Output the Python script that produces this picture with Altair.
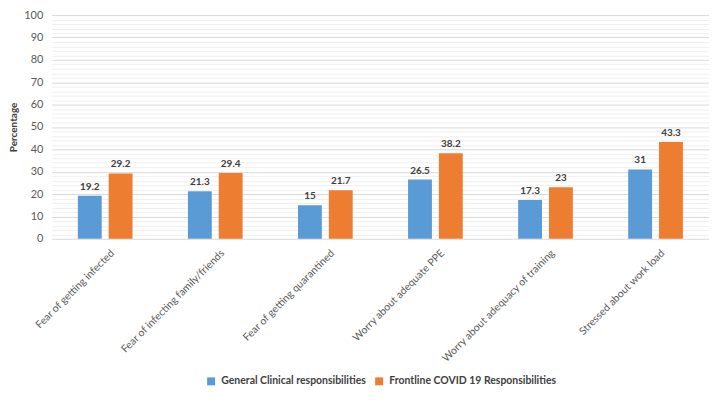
import altair as alt
import pandas as pd

categories = [
    "Fear of getting infected",
    "Fear of infecting family/friends",
    "Fear of getting quarantined",
    "Worry about adequate PPE",
    "Worry about adequacy of training",
    "Stressed about work load",
]
series_names = ["General Clinical responsibilities", "Frontline COVID 19 Responsibilities"]
general = [19.2, 21.3, 15, 26.5, 17.3, 31]
frontline = [29.2, 29.4, 21.7, 38.2, 23, 43.3]
colors = ["#5B9BD5", "#ED7D31"]
grid_ticks = list(range(0, 101, 2))

rows = []
for c, g, f in zip(categories, general, frontline):
    rows.append({"cat": c, "series": series_names[0], "value": g, "label": f"{g:g}"})
    rows.append({"cat": c, "series": series_names[1], "value": f, "label": f"{f:g}"})
df = pd.DataFrame(rows)

FONT = "Lato"

y_scale = alt.Scale(domain=[0, 100], nice=False)
y_axis = alt.Axis(
    values=grid_ticks,
    tickCount=len(grid_ticks) + 5,
    labelOverlap=False,
    labelExpr="datum.value % 10 === 0 ? datum.label : ''",
    gridColor={"condition": {"test": "datum.value % 10 === 0", "value": "#d9d9d9"}, "value": "#efefef"},
    domain=False,
    ticks=False,
    labelFontSize=11,
    labelColor="#595959",
    labelFont=FONT,
    labelPadding=9,
    titleFont=FONT,
    titleFontSize=10,
    titleFontWeight="bold",
    titleColor="#404040",
    titlePadding=5,
)

base = alt.Chart(df).encode(
    x=alt.X(
        "cat:N",
        sort=categories,
        title=None,
        scale=alt.Scale(paddingInner=0.503, paddingOuter=0.237),
        axis=alt.Axis(
            labelAngle=-45,
            labelAlign="right",
            labelBaseline="top",
            labelFontSize=10.5,
            labelColor="#595959",
            labelFont=FONT,
            labelOffset=4,
            labelLimit=0,
            domain=False,
            ticks=False,
            labelPadding=9,
        ),
    ),
    xOffset=alt.XOffset("series:N", sort=series_names, scale=alt.Scale(paddingInner=0.226, paddingOuter=0)),
)

bars = base.mark_bar().encode(
    y=alt.Y("value:Q", scale=y_scale, title="Percentage", axis=y_axis),
    color=alt.Color(
        "series:N",
        sort=series_names,
        scale=alt.Scale(domain=series_names, range=colors),
        legend=alt.Legend(
            title=None,
            orient="none",
            direction="horizontal",
            legendX=155,
            legendY=363,
            symbolType="square",
            symbolSize=64,
            symbolStrokeWidth=0,
            labelFont=FONT,
            labelFontSize=10.5,
            labelFontWeight="bold",
            labelColor="#404040",
            labelLimit=0,
            columnPadding=8,
            labelOffset=5,
        ),
    ),
)

text = base.mark_text(dy=-9, fontWeight="bold", fontSize=10, font=FONT, color="#404040").encode(
    y=alt.Y("value:Q", scale=y_scale),
    text="label:N",
)

chart = (
    alt.layer(bars, text)
    .properties(
        width=661,
        height=225,
        autosize=alt.AutoSizeParams(type="none"),
        padding={"left": 44, "top": 6, "right": 0, "bottom": 157},
    )
    .configure_view(stroke=None)
)

chart.save("out.html", embed_options={"renderer": "svg", "actions": False})
